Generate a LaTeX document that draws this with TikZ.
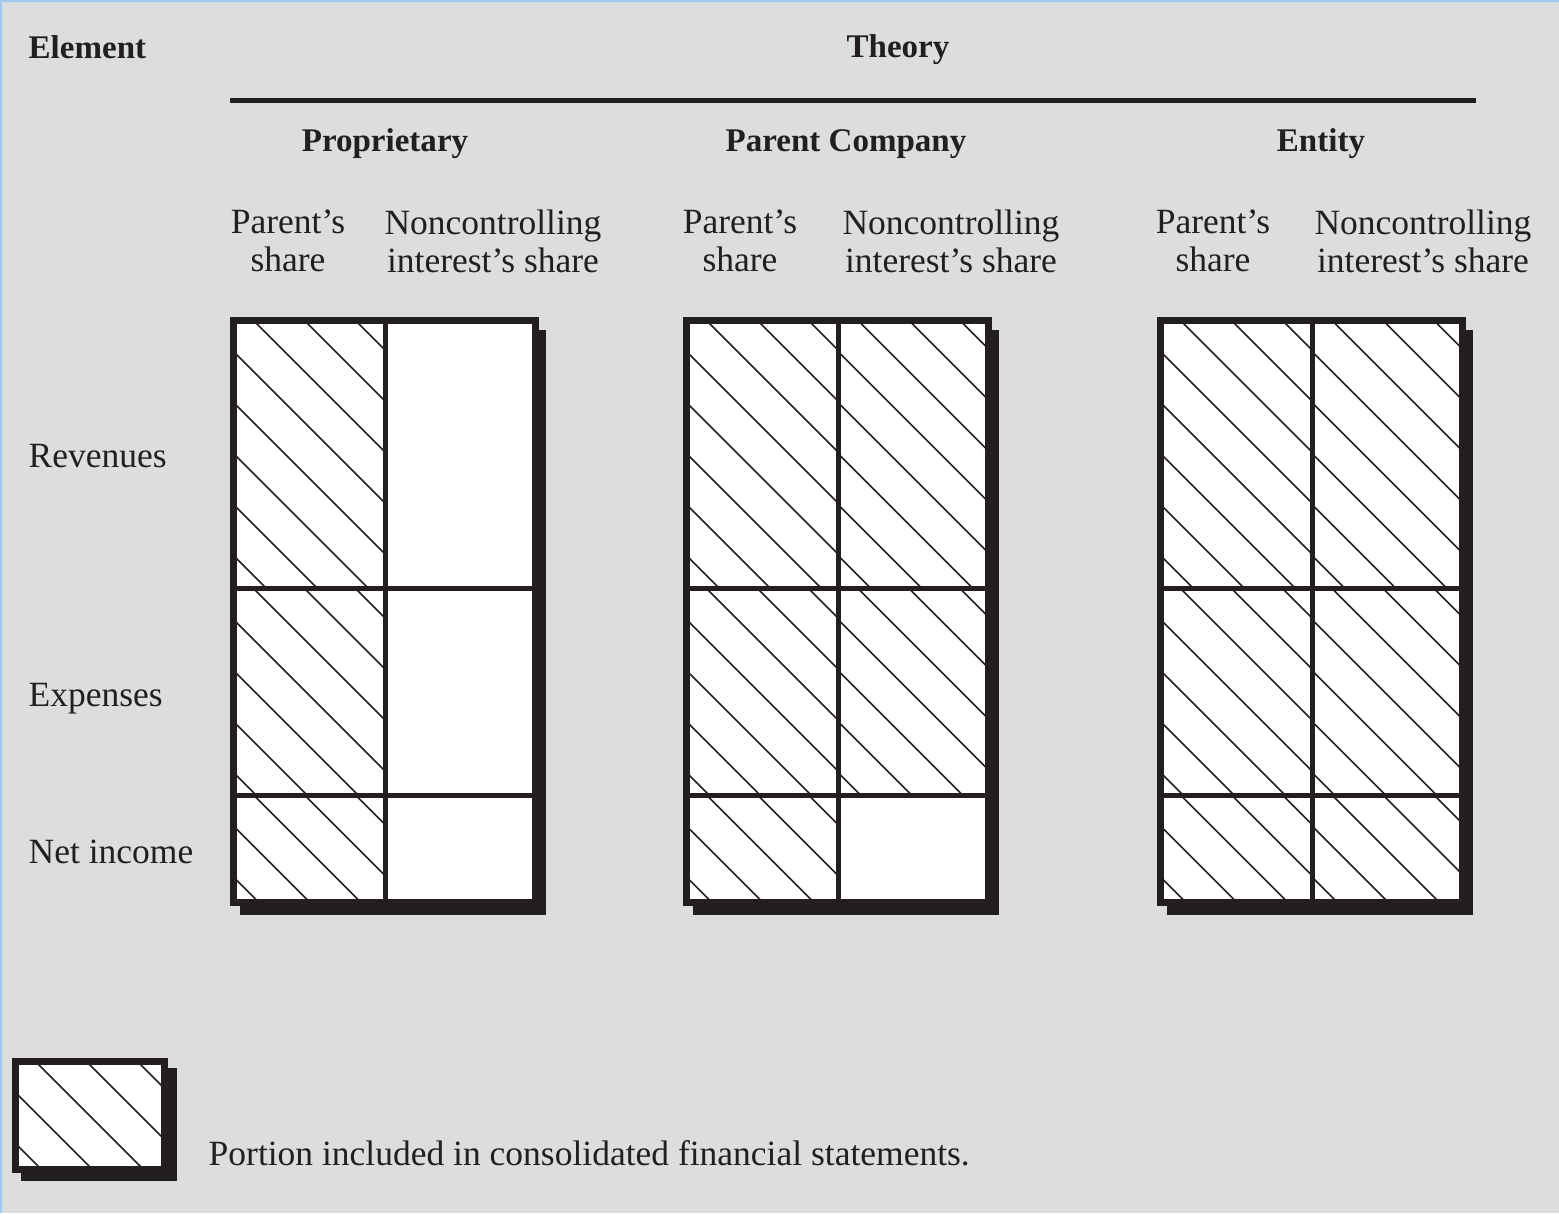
\documentclass[tikz,border=0pt]{standalone}
\usepackage{fontspec}
\setmainfont{Liberation Serif}
\definecolor{bg}{RGB}{220,221,223}
\definecolor{ink}{RGB}{35,31,32}
\definecolor{edgeblue}{RGB}{160,200,240}
\tikzset{
  lbl/.style={font=\fontsize{10.1}{10.8}\selectfont, text=ink, inner sep=0pt, align=center},
  hd/.style={font=\fontsize{9.4}{11}\selectfont\bfseries, text=ink, inner sep=0pt},
  hatch/.style={draw=ink, line width=0.16mm},
  frame/.style={draw=ink, line width=0.7mm, fill=white},
  divider/.style={draw=ink, line width=0.5mm},
  shadow/.style={fill=ink}
}
\newcommand\hcell[4]{%
  \begin{scope}
    \clip (#1,#2) rectangle (#3,#4);
    \foreach \k in {-6,...,4}
      \draw[hatch] ({#1+20+51*\k-10},{#2-10}) -- ++(420,420);
  \end{scope}}
% #1 = left x of box, #2 = hatch right-bottom cell (1/0)
\newcommand\thbox[3]{%
  \fill[shadow] ({#1+10},330) rectangle ({#1+316},915);
  \fill[white] ({#1+3.5},320.5) rectangle ({#1+305.5},902.5);
  \hcell{#1+3.5}{320.5}{#1+155}{588.5}
  \hcell{#1+3.5}{588.5}{#1+155}{795}
  \hcell{#1+3.5}{795}{#1+155}{902.5}
  \ifnum#2=1
    \hcell{#1+155}{320.5}{#1+305.5}{588.5}
    \hcell{#1+155}{588.5}{#1+305.5}{795}
  \fi
  \ifnum#3=1
    \hcell{#1+155}{795}{#1+305.5}{902.5}
  \fi
  \draw[divider] ({#1+155},320.5) -- ({#1+155},902.5);
  \draw[divider] ({#1+3.5},588.5) -- ({#1+305.5},588.5);
  \draw[divider] ({#1+3.5},795) -- ({#1+305.5},795);
  \draw[frame, fill=none] ({#1+3.5},320.5) rectangle ({#1+305.5},902.5);
}
\begin{document}
\begin{tikzpicture}[x=0.1mm, y=-0.1mm]
\useasboundingbox (0,0) rectangle (1559,1213);
\fill[bg] (0,0) rectangle (1559,1213);
\draw[edgeblue, line width=0.2mm] (1,1213) -- (1,1) -- (1559,1);

% headings
\node[hd, anchor=base west] (element) at (28,58) {Element};
\node[hd, anchor=base] (theory) at (898,57) {Theory};
\coordinate (ruleL) at (230,100);
\coordinate (ruleR) at (1476,100);
\draw[ink, line width=0.5mm] (ruleL) -- (ruleR);
\node[hd, anchor=base] (prop) at (385,151) {Proprietary};
\node[hd, anchor=base] (parent) at (846,151) {Parent Company};
\node[hd, anchor=base] (entity) at (1321,151) {Entity};

% column labels
\node[lbl] (p1) at (288,241) {Parent’s\\share};
\node[lbl] (n1) at (493,241) {Noncontrolling\\interest’s share};
\node[lbl] (p2) at (740,241) {Parent’s\\share};
\node[lbl] (n2) at (951,241) {Noncontrolling\\interest’s share};
\node[lbl] (p3) at (1213,241) {Parent’s\\share};
\node[lbl] (n3) at (1423,241) {Noncontrolling\\interest’s share};

% row labels
\node[lbl, anchor=base west] (rev) at (28,467) {Revenues};
\node[lbl, anchor=base west] (exp) at (28,706) {Expenses};
\node[lbl, anchor=base west] (ni) at (28,863) {Net income};

% boxes
\thbox{230}{0}{0}
\thbox{683}{1}{0}
\thbox{1157}{1}{1}

% legend
\fill[shadow] (21,1068) rectangle (177,1181);
\fill[white] (15.5,1061.5) rectangle (164.5,1169.5);
\hcell{15.5}{1061.5}{164.5}{1169.5}
\draw[frame, fill=none] (15.5,1061.5) rectangle (164.5,1169.5);
\node[lbl, anchor=base west] (legend) at (208,1165) {Portion included in consolidated financial statements.};
\end{tikzpicture}
\end{document}
